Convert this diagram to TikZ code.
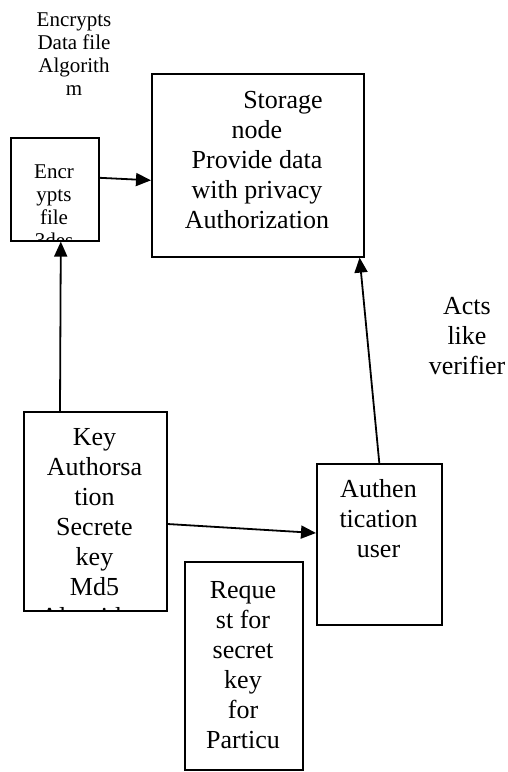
\documentclass[tikz,border=0pt]{standalone}
\usepackage{fontspec}
\setmainfont{Liberation Serif}
\usetikzlibrary{arrows.meta}

\begin{document}
\begin{tikzpicture}[x=1pt,y=-1pt]
  \tikzstyle{Box}=[draw,line width=1.6pt,anchor=north west,inner sep=0pt]
  \tikzstyle{Txt}=[align=center,anchor=north,inner sep=0pt,font=\fontsize{26}{30}\selectfont]
  \tikzstyle{SmallTxt}=[Txt,font=\fontsize{21}{23}\selectfont]
  \tikzstyle{Link}=[line width=1.8pt,-{Triangle[length=15pt,width=13pt]}]
  \useasboundingbox (0,0) rectangle (508,772);
  % boxes
  \node[Box,minimum width=88pt,minimum height=103pt] (encr) at (10,137) {};
  \node[Box,minimum width=212pt,minimum height=183pt] (stor) at (151,73) {};
  \node[Box,minimum width=143pt,minimum height=199pt] (key) at (23,411) {};
  \node[Box,minimum width=125pt,minimum height=161pt] (auth) at (316,463) {};
  \node[Box,minimum width=118pt,minimum height=208pt] (req) at (184,561) {};
  % texts
  \node[SmallTxt] (algo) at (74,13) {Encrypts\\Data file\\Algorith\\m};
  \node[Txt] (verif) at (467,297) {Acts\\like\\verifier};
  \node[Txt] (stortxt) at (257,91) {\hspace*{52pt}Storage\\node\\Provide data\\with privacy\\Authorization};
  \node[Txt] (authtxt) at (378.5,479) {Authen\\tication\\user};
  \node[Txt] (reqtxt) at (243,581) {Reque\\st for\\secret\\key\\for\\Particu};
  \begin{scope}
    \clip (encr.north west) rectangle (encr.south east);
    \node[SmallTxt] (encrtxt) at (54,165) {Encr\\ypts\\file\\3des};
  \end{scope}
  \begin{scope}
    \clip (key.north west) rectangle (key.south east);
    \node[Txt] (keytxt) at (94.5,428) {Key\\Authorsa\\tion\\Secrete\\key\\Md5\\Algorithm};
  \end{scope}
  % connectors
  \draw[Link] ([yshift=11.5pt]encr.east) -- ([yshift=-15pt]stor.west);
  \draw[Link] ([xshift=37pt]key.north west) -- ([xshift=6pt]encr.south);
  \draw[Link] ([yshift=-113pt]key.north east) -- ([yshift=-70pt]auth.north west);
  \draw[Link] (auth.north) -- ([xshift=-5pt]stor.south east);
\end{tikzpicture}
\end{document}
